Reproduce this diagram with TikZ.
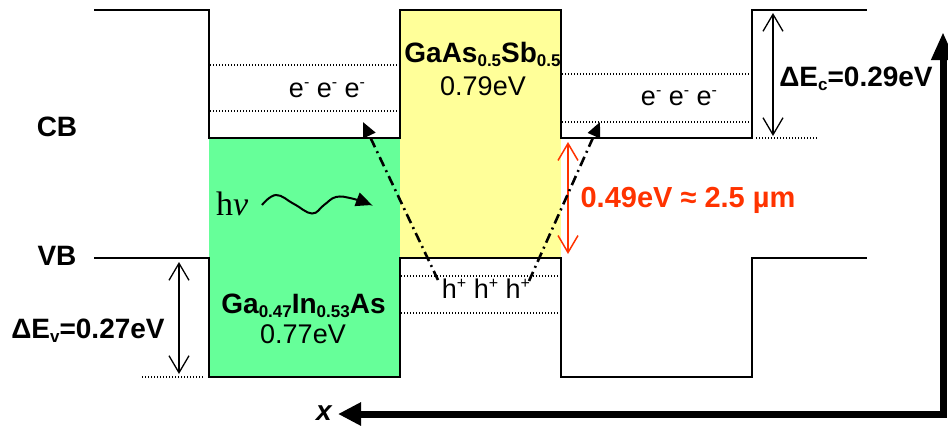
\documentclass[tikz,border=0pt]{standalone}
\usepackage{fontspec}
\setmainfont{Liberation Sans}
\newfontfamily\seriffont{Liberation Serif}
\usetikzlibrary{arrows.meta}
\definecolor{gfill}{HTML}{66FF99}
\definecolor{yfill}{HTML}{FFFF99}
\definecolor{redtxt}{HTML}{FF3300}
\newcommand\sbs[1]{\raisebox{-4pt}{\fontsize{17}{17}\selectfont #1}}
\newcommand\sps[1]{\raisebox{10pt}{\fontsize{16}{16}\selectfont #1}}
\begin{document}
\begin{tikzpicture}[x=1pt,y=-1pt,
 band/.style={line width=2pt, line join=miter},
 lvl/.style={line width=1.2pt, dash pattern=on 1.2pt off 1.8pt},
 lbl/.style={inner sep=0pt, anchor=base, font=\fontsize{27}{30}\selectfont},
 blbl/.style={inner sep=0pt, anchor=base, font=\fontsize{28}{30}\selectfont\bfseries},
 dimarrow/.style={line width=1.3pt, {Straight Barb[length=17pt,width=20pt]}-{Straight Barb[length=17pt,width=20pt]}},
 trans/.style={line width=2.6pt, dash pattern=on 10pt off 4.5pt on 2pt off 4.5pt, -{Triangle[length=15pt,width=13pt]}},
 axisarrow/.style={line width=7pt, {Triangle[length=23pt,width=22pt]}-{Triangle[length=28pt,width=22pt]}}
]
\useasboundingbox (0,0) rectangle (948,426);
% fills
\fill[gfill] (209,138) rectangle (400,377);
\fill[yfill] (400,10) rectangle (561,258);
% dotted levels
\draw[lvl] (210,65) -- (398,65);
\draw[lvl] (210,111) -- (398,111);
\draw[lvl] (562,74) -- (751,74);
\draw[lvl] (562,122) -- (751,122);
\draw[lvl] (756,138) -- (818,138);
\draw[lvl] (401,276) -- (560,276);
\draw[lvl] (401,313) -- (560,313);
\draw[lvl] (142,377) -- (204,377);
% band edges
\coordinate (c0) at (94,10);
\coordinate (c9) at (867,10);
\coordinate (v0) at (94,258);
\coordinate (v9) at (867,258);
\draw[band] (c0) -- (209,10) -- (209,138) -- (400,138) -- (400,10) -- (561,10) -- (561,138) -- (752,138) -- (752,10) -- (c9);
\draw[band] (v0) -- (209,258) -- (209,377) -- (400,377) -- (400,258) -- (561,258) -- (561,377) -- (752,377) -- (752,258) -- (v9);
% labels
\node[blbl] (cb) at (57,136) {CB};
\node[blbl] (vb) at (57,265) {VB};
\node[lbl] (el) at (327,97) {e\sps{-} e\sps{-} e\sps{-}};
\node[lbl] (er) at (679,105) {e\sps{-} e\sps{-} e\sps{-}};
\node[lbl] (hh) at (486,298) {h\sps{+} h\sps{+} h\sps{+}};
\node[blbl] (gaassb) at (482.5,62) {GaAs\sbs{0.5}Sb\sbs{0.5}};
\node[lbl] (e079) at (483,95) {0.79eV};
\node[blbl] (gainas) at (303.5,313) {Ga\sbs{0.47}In\sbs{0.53}As};
\node[lbl] (e077) at (303,343) {0.77eV};
\node[blbl] (dev) at (88,338) {ΔE\sbs{v}=0.27eV};
\node[blbl] (dec) at (856,86) {ΔE\sbs{c}=0.29eV};
\node[blbl, text=redtxt, font=\fontsize{29}{30}\selectfont\bfseries] (gap) at (688,207) {0.49eV ≈ 2.5 µm};
\node[inner sep=0pt, anchor=base west, font=\fontsize{34}{36}\selectfont\seriffont] (hnu) at (216,215) {h\textit{ν}};
\node[inner sep=0pt, anchor=base, font=\fontsize{28}{30}\selectfont\bfseries\itshape] (xl) at (324,420) {x};
% dimension arrows
\coordinate (dc1) at (773,13);
\coordinate (dc2) at (773,136);
\draw[dimarrow] (dc1) -- (dc2);
\coordinate (dv1) at (179,262);
\coordinate (dv2) at (179,374);
\draw[dimarrow] (dv1) -- (dv2);
\coordinate (r1) at (568,142);
\coordinate (r2) at (568,254);
\draw[dimarrow, redtxt, line width=1.5pt] (r1) -- (r2);
% transitions
\coordinate (t1s) at (438,280);
\coordinate (t1e) at (363,122);
\coordinate (t2s) at (529,281);
\coordinate (t2e) at (600,122);
\draw[trans] (t1s) -- (t1e);
\draw[trans] (t2s) -- (t2e);
% photon
\draw[line width=2pt, -{Triangle[length=16pt,width=14pt]}] plot[smooth, tension=0.7] coordinates {(262,205) (276,195) (294,204) (312,213.5) (324,205) (336,197) (352,198.5) (372,205)};
% axes
\coordinate (ax) at (338,414);
\coordinate (corner) at (943,414);
\coordinate (ay) at (943,32);
\draw[axisarrow, line join=miter] (ax) -- (corner) -- (ay);
\end{tikzpicture}
\end{document}
